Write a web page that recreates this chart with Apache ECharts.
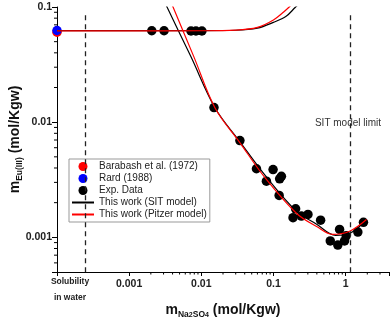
<!DOCTYPE html>
<html>
<head>
<meta charset="utf-8">
<script src="https://cdn.jsdelivr.net/npm/echarts@6/dist/echarts.min.js"></script>
<style>
  html, body { margin: 0; padding: 0; background: #fff; }
  #chart { width: 392px; height: 320px; }
</style>
</head>
<body>
<div id="chart"></div>
<script>
// axis ranges
const X_MIN = 0.0001, X_MAX = 4;
const Y_MIN = 0.0005, Y_MAX = 0.1;

// literature points (plotted at the "solubility in water" position)
const barabash = [[0.0001, 0.0605]];
const rard = [[0.0001, 0.0625]];

// experimental data [m Na2SO4, m Eu(III)]
const expData = [
  [0.00206, 0.0622], [0.00305, 0.0622], [0.0072, 0.0619], [0.00843, 0.0619], [0.0102, 0.0619],
  [0.0150, 0.0134], [0.0343, 0.00692], [0.0582, 0.00394], [0.0989, 0.00388],
  [0.080, 0.00307], [0.122, 0.00322], [0.129, 0.00339], [0.120, 0.00231],
  [0.203, 0.00177], [0.187, 0.00148], [0.244, 0.00153], [0.301, 0.00158],
  [0.451, 0.00141], [0.826, 0.00117], [0.614, 0.00093], [0.781, 0.000857],
  [0.968, 0.00093], [1.02, 0.00103], [1.48, 0.00111], [1.77, 0.00135]
];

// SIT model curves (two branches)
const sitUpper = [
  [0.0001, 0.0623], [0.001, 0.0623], [0.01, 0.0623], [0.03, 0.0628], [0.06, 0.0655],
  [0.1, 0.0735], [0.15, 0.083], [0.2, 0.099], [0.25, 0.113]
];
const sitLower = [
  [0.00314, 0.1105], [0.00335, 0.1], [0.0072, 0.0369], [0.01545, 0.01335],
  [0.0342, 0.00678], [0.0809, 0.00331], [0.21, 0.00168], [0.397, 0.0013],
  [0.728, 0.00104], [1.135, 0.00108], [1.89, 0.0014]
];

// Pitzer model curves (two branches)
const pitzerUpper = [
  [0.0001, 0.0621], [0.001, 0.0621], [0.01, 0.0622], [0.03, 0.063], [0.06, 0.0665],
  [0.1, 0.0772], [0.14, 0.091], [0.18, 0.105], [0.22, 0.118]
];
const pitzerLower = [
  [0.0038, 0.1105], [0.00406, 0.1], [0.0079, 0.0369], [0.01545, 0.01335],
  [0.0342, 0.00665], [0.0759, 0.00331], [0.21, 0.00161], [0.397, 0.00124],
  [0.66, 0.00106], [1.135, 0.00113], [1.95, 0.00143]
];

// dashed reference lines
const solubilityX = 0.00025;
const sitLimitX = 1.17;
const dashTop = 0.085;

// minor tick values
const xMinor = [0.002, 0.003, 0.004, 0.005, 0.006, 0.007, 0.008, 0.009,
  0.02, 0.03, 0.04, 0.05, 0.06, 0.07, 0.08, 0.09,
  0.2, 0.3, 0.4, 0.5, 0.6, 0.7, 0.8, 0.9, 2, 3];
const yMinor = [0.0006, 0.0007, 0.0008, 0.0009,
  0.002, 0.003, 0.004, 0.005, 0.006, 0.007, 0.008, 0.009,
  0.02, 0.03, 0.04, 0.05, 0.06, 0.07, 0.08, 0.09];

const xTickText = { '-4': 'sol', '-3': '0.001', '-2': '0.01', '-1': '0.1', '0': '1' };
const yTickText = { '-3': '0.001', '-2': '0.01', '-1': '0.1' };

const FONT = 'Liberation Sans, Arial, sans-serif';
const noDot = { color: 'rgba(0,0,0,0)', borderWidth: 0 };

function tickKey(v) {
  const l = Math.log10(v);
  if (Math.abs(l - Math.round(l)) > 1e-6) return null;
  return String(Math.round(l));
}

function curve(name, data, color) {
  return {
    name: name,
    type: 'line',
    data: data,
    smooth: 0.35,
    symbol: 'none',
    lineStyle: { color: color, width: 1.2 },
    itemStyle: { color: color }
  };
}

const chart = echarts.init(document.getElementById('chart'));
const option = {
  animation: false,
  textStyle: { fontFamily: FONT },
  grid: { left: 57, right: 3, top: 7, bottom: 48, containLabel: false, outerBoundsMode: 'none' },
  legend: {
    orient: 'vertical',
    left: 69,
    top: 159,
    padding: [2, 3, 2, 2],
    itemGap: 1,
    itemWidth: 22,
    itemHeight: 9,
    backgroundColor: '#fff',
    borderColor: '#999',
    borderWidth: 1,
    textStyle: { fontSize: 10, color: '#222', fontFamily: FONT, lineHeight: 11 },
    data: [
      'Barabash et al. (1972)',
      'Rard (1988)',
      'Exp. Data',
      { name: 'This work (SIT model)', itemStyle: noDot },
      { name: 'This work (Pitzer model)', itemStyle: noDot }
    ]
  },
  xAxis: {
    type: 'log',
    min: X_MIN,
    max: X_MAX,
    splitLine: { show: false },
    axisLine: { lineStyle: { color: '#000', width: 1 } },
    axisTick: { inside: false, length: 4, lineStyle: { color: '#000' } },
    axisLabel: {
      margin: 2,
      showMinLabel: true,
      formatter: function (v) {
        const k = tickKey(v);
        if (k === null || !(k in xTickText)) return '';
        if (xTickText[k] === 'sol') return '{s|Solubility}\n{s|in water}';
        return '{b|' + xTickText[k] + '}';
      },
      rich: {
        b: { fontSize: 10.5, fontWeight: 'bold', color: '#222', lineHeight: 14, padding: [6, 0, 0, 0], fontFamily: FONT },
        s: { fontSize: 8.5, fontWeight: 'bold', color: '#222', lineHeight: 16, padding: [0, 0, 0, 26], fontFamily: FONT }
      }
    },
    name: '{m|m}{s|Na}{ss|2}{s|SO}{ss|4}{m| (mol/Kgw)}',
    nameLocation: 'middle',
    nameGap: 29,
    nameMoveOverlap: false,
    nameTextStyle: {
      rich: {
        m: { fontSize: 14, fontWeight: 'bold', color: '#111', lineHeight: 18, fontFamily: FONT },
        s: { fontSize: 8.5, fontWeight: 'bold', color: '#111', lineHeight: 10, verticalAlign: 'bottom', fontFamily: FONT },
        ss: { fontSize: 7, fontWeight: 'bold', color: '#111', lineHeight: 7, verticalAlign: 'bottom', fontFamily: FONT }
      }
    }
  },
  yAxis: {
    type: 'log',
    min: Y_MIN,
    max: Y_MAX,
    splitLine: { show: false },
    axisLine: { lineStyle: { color: '#000', width: 1 } },
    axisTick: { inside: false, length: 5, lineStyle: { color: '#000' } },
    axisLabel: {
      margin: 5,
      fontSize: 10.5,
      fontWeight: 'bold',
      color: '#222',
      fontFamily: FONT,
      formatter: function (v) {
        const k = tickKey(v);
        return (k !== null && k in yTickText) ? yTickText[k] : '';
      }
    },
    name: '{m|m}{s|Eu(III)}{m| (mol/Kgw)}',
    nameLocation: 'middle',
    nameRotate: 90,
    nameGap: 33,
    nameMoveOverlap: false,
    nameTextStyle: {
      rich: {
        m: { fontSize: 14, fontWeight: 'bold', color: '#111', lineHeight: 18, fontFamily: FONT },
        s: { fontSize: 8.5, fontWeight: 'bold', color: '#111', lineHeight: 10, verticalAlign: 'bottom', fontFamily: FONT }
      }
    }
  },
  graphic: [
    {
      type: 'text',
      x: 348,
      y: 123,
      style: { text: 'SIT model limit', fontSize: 10, fill: '#333', align: 'center', verticalAlign: 'middle', fontFamily: FONT }
    }
  ],
  series: [
    {
      name: 'minorX',
      type: 'custom',
      silent: true,
      clip: false,
      data: xMinor.map(v => [v, Y_MIN]),
      renderItem: function (params, api) {
        const p = api.coord([api.value(0), api.value(1)]);
        return { type: 'line', shape: { x1: p[0], y1: p[1], x2: p[0], y2: p[1] + 2.5 }, style: { stroke: '#000', lineWidth: 1 } };
      }
    },
    {
      name: 'minorY',
      type: 'custom',
      silent: true,
      clip: false,
      data: yMinor.map(v => [X_MIN, v]),
      renderItem: function (params, api) {
        const p = api.coord([api.value(0), api.value(1)]);
        return { type: 'line', shape: { x1: p[0] - 3, y1: p[1], x2: p[0], y2: p[1] }, style: { stroke: '#000', lineWidth: 1 } };
      }
    },
    curve('This work (SIT model)', sitUpper, '#000'),
    curve('This work (SIT model)', sitLower, '#000'),
    curve('This work (Pitzer model)', pitzerUpper, '#ff0000'),
    curve('This work (Pitzer model)', pitzerLower, '#ff0000'),
    {
      name: 'Exp. Data',
      type: 'scatter',
      data: expData,
      symbolSize: 9.5,
      itemStyle: { color: '#000', opacity: 1 },
      markLine: {
        silent: true,
        symbol: 'none',
        label: { show: false },
        lineStyle: { color: '#222', width: 1.3, type: [5, 4] },
        data: [
          [{ coord: [solubilityX, dashTop] }, { coord: [solubilityX, Y_MIN] }],
          [{ coord: [sitLimitX, dashTop] }, { coord: [sitLimitX, Y_MIN] }]
        ]
      }
    },
    {
      name: 'Barabash et al. (1972)',
      type: 'scatter',
      data: barabash,
      symbolSize: 9.5,
      itemStyle: { color: '#ff0000', opacity: 1 }
    },
    {
      name: 'Rard (1988)',
      type: 'scatter',
      data: rard,
      symbolSize: 9.5,
      itemStyle: { color: '#0000ff', opacity: 1 }
    }
  ]
};
chart.setOption(option);
</script>
</body>
</html>
